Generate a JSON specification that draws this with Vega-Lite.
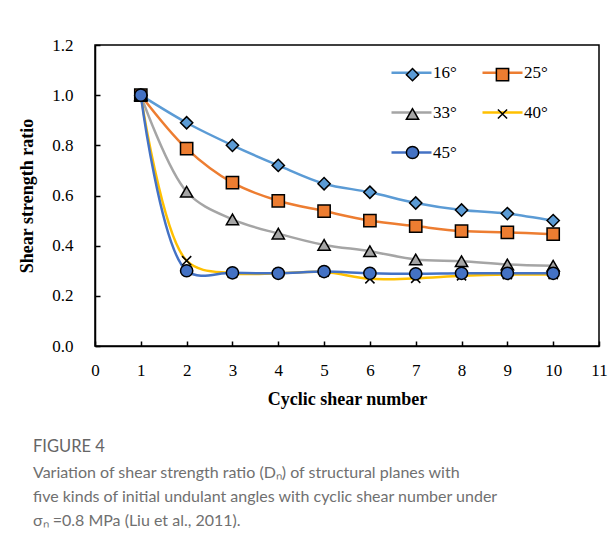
{
  "$schema": "https://vega.github.io/schema/vega-lite/v6.json",
  "width": 504,
  "height": 301,
  "autosize": {"type": "none"},
  "padding": {"left": 95, "top": 45, "right": 15, "bottom": 208},
  "background": "white",
  "config": {
    "view": {"stroke": "black", "strokeWidth": 1.5},
    "axis": {
      "labelFont": "Liberation Serif",
      "labelFontSize": 17,
      "labelColor": "black",
      "titleFont": "Liberation Serif",
      "titleFontSize": 18,
      "titleFontWeight": "bold",
      "titleColor": "black",
      "domainColor": "black",
      "domainWidth": 1.5,
      "tickColor": "black",
      "tickWidth": 1.5,
      "tickSize": -5,
      "grid": false
    },
    "legend": {"padding": 0}
  },
  "title": {
    "text": "FIGURE 4",
    "subtitle": [
      "Variation of shear strength ratio (Dₙ) of structural planes with",
      "five kinds of initial undulant angles with cyclic shear number under",
      "σₙ =0.8 MPa (Liu et al., 2011)."
    ],
    "orient": "bottom",
    "anchor": "start",
    "frame": "group",
    "dx": -62,
    "offset": 31,
    "font": "Lato",
    "fontSize": 16.5,
    "fontWeight": "normal",
    "color": "#666666",
    "subtitleFont": "Lato",
    "subtitleFontSize": 16,
    "subtitleColor": "#707070",
    "subtitleLineHeight": 24,
    "subtitlePadding": 9
  },
  "data": {
    "values": [
      {"angle": "16°", "n": 1, "ratio": 1.0},
      {"angle": "16°", "n": 2, "ratio": 0.89},
      {"angle": "16°", "n": 3, "ratio": 0.8},
      {"angle": "16°", "n": 4, "ratio": 0.72},
      {"angle": "16°", "n": 5, "ratio": 0.647},
      {"angle": "16°", "n": 6, "ratio": 0.613},
      {"angle": "16°", "n": 7, "ratio": 0.57},
      {"angle": "16°", "n": 8, "ratio": 0.542},
      {"angle": "16°", "n": 9, "ratio": 0.528},
      {"angle": "16°", "n": 10, "ratio": 0.5},
      {"angle": "25°", "n": 1, "ratio": 1.0},
      {"angle": "25°", "n": 2, "ratio": 0.787},
      {"angle": "25°", "n": 3, "ratio": 0.651},
      {"angle": "25°", "n": 4, "ratio": 0.579},
      {"angle": "25°", "n": 5, "ratio": 0.538},
      {"angle": "25°", "n": 6, "ratio": 0.5},
      {"angle": "25°", "n": 7, "ratio": 0.478},
      {"angle": "25°", "n": 8, "ratio": 0.458},
      {"angle": "25°", "n": 9, "ratio": 0.453},
      {"angle": "25°", "n": 10, "ratio": 0.446},
      {"angle": "33°", "n": 1, "ratio": 1.0},
      {"angle": "33°", "n": 2, "ratio": 0.615},
      {"angle": "33°", "n": 3, "ratio": 0.505},
      {"angle": "33°", "n": 4, "ratio": 0.448},
      {"angle": "33°", "n": 5, "ratio": 0.403},
      {"angle": "33°", "n": 6, "ratio": 0.378},
      {"angle": "33°", "n": 7, "ratio": 0.345},
      {"angle": "33°", "n": 8, "ratio": 0.338},
      {"angle": "33°", "n": 9, "ratio": 0.325},
      {"angle": "33°", "n": 10, "ratio": 0.32},
      {"angle": "40°", "n": 1, "ratio": 1.0},
      {"angle": "40°", "n": 2, "ratio": 0.34},
      {"angle": "40°", "n": 3, "ratio": 0.29},
      {"angle": "40°", "n": 4, "ratio": 0.29},
      {"angle": "40°", "n": 5, "ratio": 0.295},
      {"angle": "40°", "n": 6, "ratio": 0.268},
      {"angle": "40°", "n": 7, "ratio": 0.27},
      {"angle": "40°", "n": 8, "ratio": 0.28},
      {"angle": "40°", "n": 9, "ratio": 0.285},
      {"angle": "40°", "n": 10, "ratio": 0.285},
      {"angle": "45°", "n": 1, "ratio": 1.0},
      {"angle": "45°", "n": 2, "ratio": 0.3},
      {"angle": "45°", "n": 3, "ratio": 0.292},
      {"angle": "45°", "n": 4, "ratio": 0.29},
      {"angle": "45°", "n": 5, "ratio": 0.297},
      {"angle": "45°", "n": 6, "ratio": 0.29},
      {"angle": "45°", "n": 7, "ratio": 0.288},
      {"angle": "45°", "n": 8, "ratio": 0.29},
      {"angle": "45°", "n": 9, "ratio": 0.29},
      {"angle": "45°", "n": 10, "ratio": 0.29}
    ]
  },
  "encoding": {
    "x": {
      "field": "n",
      "type": "quantitative",
      "scale": {"domain": [0, 11], "nice": false},
      "axis": {
        "title": "Cyclic shear number",
        "values": [0, 1, 2, 3, 4, 5, 6, 7, 8, 9, 10, 11],
        "labelPadding": 21,
        "titlePadding": 12,
        "labelFlush": false
      }
    },
    "y": {
      "field": "ratio",
      "type": "quantitative",
      "scale": {"domain": [0, 1.2], "nice": false},
      "axis": {
        "title": "Shear strength ratio",
        "values": [0, 0.2, 0.4, 0.6, 0.8, 1.0, 1.2],
        "format": ".1f",
        "labelPadding": 27,
        "titlePadding": 15,
        "labelFlush": false
      }
    }
  },
  "layer": [
    {
      "mark": {"type": "line", "interpolate": "catmull-rom", "strokeWidth": 2.5},
      "encoding": {
        "color": {
          "field": "angle",
          "type": "nominal",
          "scale": {"range": ["#5B9BD5", "#ED7D31", "#A5A5A5", "#FFC000", "#4472C4"]},
          "legend": {
            "orient": "none",
            "direction": "horizontal",
            "legendX": 295,
            "legendY": 6,
            "columns": 2,
            "title": null,
            "symbolType": "stroke",
            "symbolSize": 1600,
            "symbolStrokeWidth": 2.5,
            "labelFont": "Liberation Serif",
            "labelFontSize": 17,
            "labelColor": "black",
            "labelOffset": 0,
            "columnPadding": 20,
            "rowPadding": 10
          }
        }
      }
    },
    {
      "mark": {"type": "point", "filled": true, "size": 150, "stroke": "black", "strokeWidth": 1.5, "opacity": 1},
      "encoding": {
        "shape": {
          "field": "angle",
          "type": "nominal",
          "scale": {
            "domain": ["16°", "25°", "33°", "40°", "45°"],
            "range": ["diamond", "square", "triangle-up", "M-0.75,-0.75L0.75,0.75M-0.75,0.75L0.75,-0.75", "circle"]
          },
          "legend": {
            "orient": "none",
            "direction": "horizontal",
            "legendX": 295,
            "legendY": 21,
            "columns": 2,
            "title": null,
            "symbolSize": 150,
            "symbolStrokeWidth": 1.5,
            "symbolOffset": 14,
            "labelExpr": "''",
            "labelFontSize": 17,
            "labelOffset": 31,
            "columnPadding": 28,
            "rowPadding": 20.5
          }
        },
        "fill": {
          "field": "angle",
          "type": "nominal",
          "scale": {
            "domain": ["16°", "25°", "33°", "40°", "45°"],
            "range": ["#5B9BD5", "#ED7D31", "#A5A5A5", "#FFC000", "#4472C4"]
          },
          "legend": {
            "orient": "none",
            "direction": "horizontal",
            "legendX": 295,
            "legendY": 21,
            "columns": 2,
            "title": null,
            "symbolSize": 150,
            "symbolStrokeWidth": 1.5,
            "symbolOffset": 14,
            "labelExpr": "''",
            "labelFontSize": 17,
            "labelOffset": 31,
            "columnPadding": 28,
            "rowPadding": 20.5
          }
        }
      }
    }
  ]
}
